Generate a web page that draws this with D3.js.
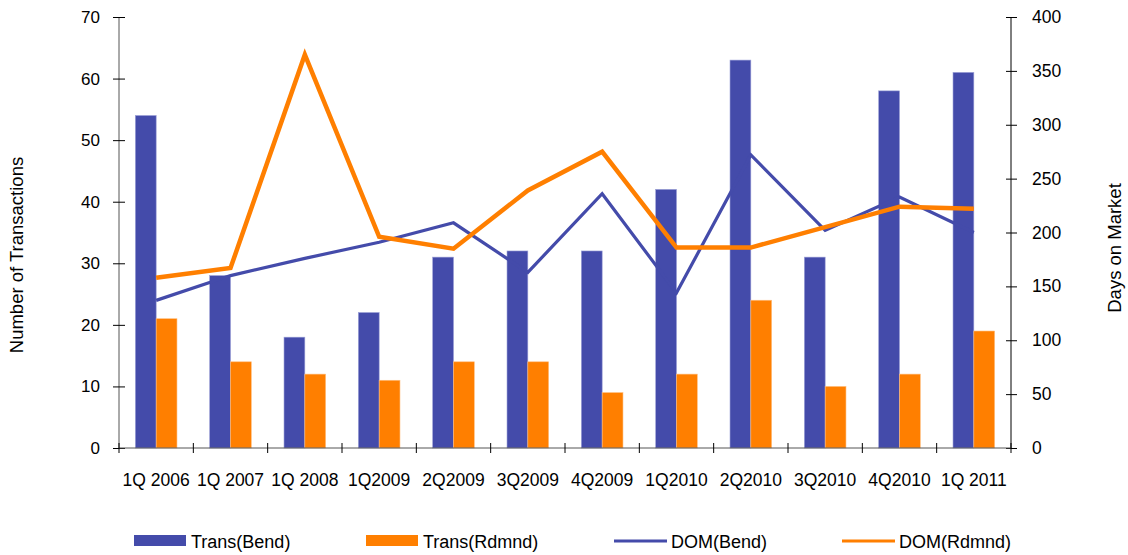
<!DOCTYPE html>
<html>
<head>
<meta charset="utf-8">
<script src="https://cdn.jsdelivr.net/npm/d3@7/dist/d3.min.js"></script>
<style>
  html, body { margin: 0; padding: 0; background: #fff; }
  svg text { font-family: "Liberation Sans", Arial, sans-serif; fill: #000; }
</style>
</head>
<body>
<div id="chart"></div>
<script>
// Quarterly transactions and days on market, Bend vs Redmond
const categories = ["1Q 2006", "1Q 2007", "1Q 2008", "1Q2009", "2Q2009", "3Q2009",
                    "4Q2009", "1Q2010", "2Q2010", "3Q2010", "4Q2010", "1Q 2011"];
const transBend   = [54, 28, 18, 22, 31, 32, 32, 42, 63, 31, 58, 61];
const transRdmnd  = [21, 14, 12, 11, 14, 14, 9, 12, 24, 10, 12, 19];
const domBend     = [137, 160, 176, 191, 209, 163, 236, 144, 272, 202, 233, 200];
const domRdmnd    = [158, 167, 365, 196, 185, 239, 275, 186, 186, 205, 224, 222];
const leftTicks   = [0, 10, 20, 30, 40, 50, 60, 70];
const rightTicks  = [0, 50, 100, 150, 200, 250, 300, 350, 400];

const W = 1128, H = 555;
const plot = { left: 119, right: 1011, top: 17, bottom: 448 };
const blue = "#444BAA", orange = "#FF7F00";
const font = "Liberation Sans, Arial, sans-serif";

const svg = d3.select("#chart").append("svg")
  .attr("width", W).attr("height", H);

const x = d3.scaleBand().domain(categories)
  .range([plot.left, plot.right]).paddingInner(0.44).paddingOuter(0.22);
const xGroup = d3.scaleBand().domain(categories).range([plot.left, plot.right]);
const yL = d3.scaleLinear().domain([0, 70]).range([plot.bottom, plot.top]);
const yR = d3.scaleLinear().domain([0, 400]).range([plot.bottom, plot.top]);

// bars
const barW = x.bandwidth() / 2;
const g = svg.append("g");
g.selectAll("rect.bend").data(categories).join("rect")
  .attr("x", d => x(d)).attr("width", barW)
  .attr("y", (d, i) => yL(transBend[i]))
  .attr("height", (d, i) => yL(0) - yL(transBend[i]))
  .attr("fill", blue).attr("stroke", "#9a9fd6").attr("stroke-width", 0.6);
g.selectAll("rect.rd").data(categories).join("rect")
  .attr("x", d => x(d) + barW).attr("width", barW)
  .attr("y", (d, i) => yL(transRdmnd[i]))
  .attr("height", (d, i) => yL(0) - yL(transRdmnd[i]))
  .attr("fill", orange).attr("stroke", "#ffbf80").attr("stroke-width", 0.6);

// lines on the right axis
const cx = d => xGroup(d) + xGroup.bandwidth() / 2;
const line = vals => d3.line().x((d, i) => cx(categories[i])).y(d => yR(d))(vals);
svg.append("path").attr("d", line(domBend))
  .attr("fill", "none").attr("stroke", blue).attr("stroke-width", 3.2)
  .attr("stroke-linejoin", "miter");
svg.append("path").attr("d", line(domRdmnd))
  .attr("fill", "none").attr("stroke", orange).attr("stroke-width", 4.5)
  .attr("stroke-linejoin", "miter");

// axes
const axisColor = "#555";
const leftAxis = d3.axisLeft(yL).tickValues(leftTicks).tickSize(6).tickPadding(13);
const gl = svg.append("g").attr("transform", `translate(${plot.left},0)`).call(leftAxis);
gl.selectAll(".tick line").attr("x2", -6).attr("x1", 6).attr("stroke", "#000");
gl.select(".domain").attr("d", `M0,${plot.top}V${plot.bottom}`).attr("stroke", axisColor);
gl.selectAll("text").attr("font-size", 17);

const rightAxis = d3.axisRight(yR).tickValues(rightTicks).tickSize(6).tickPadding(15);
const gr = svg.append("g").attr("transform", `translate(${plot.right},0)`).call(rightAxis);
gr.selectAll(".tick line").attr("x1", -5).attr("x2", 6).attr("stroke", "#000");
gr.select(".domain").attr("d", `M0,${plot.top}V${plot.bottom}`).attr("stroke", "#000");
gr.selectAll("text").attr("font-size", 17.5);

const bottomAxis = d3.axisBottom(xGroup).tickSize(0).tickPadding(26);
const gb = svg.append("g").attr("transform", `translate(0,${plot.bottom})`).call(bottomAxis);
gb.select(".domain").attr("d", `M${plot.left},0H${plot.right}`).attr("stroke", axisColor);
gb.selectAll(".tick line").remove();
gb.selectAll("text").attr("font-size", 17.5);
// category separator ticks
gb.selectAll("line.sep").data(d3.range(categories.length + 1)).join("line")
  .attr("x1", i => plot.left + i * xGroup.step()).attr("x2", i => plot.left + i * xGroup.step())
  .attr("y1", -5).attr("y2", 5).attr("stroke", "#000");

[gl, gr, gb].forEach(a => a.selectAll("text")
  .attr("font-family", font).attr("fill", "#000"));

// axis titles
svg.append("text").attr("transform", "translate(23,255) rotate(-90)")
  .attr("text-anchor", "middle").attr("font-size", 18.5).text("Number of Transactions");
svg.append("text").attr("transform", "translate(1121,248) rotate(-90)")
  .attr("text-anchor", "middle").attr("font-size", 18.5).text("Days on Market");

// legend
const legend = [
  { name: "Trans(Bend)", color: blue, type: "bar", x: 134 },
  { name: "Trans(Rdmnd)", color: orange, type: "bar", x: 366 },
  { name: "DOM(Bend)", color: blue, type: "line", x: 614 },
  { name: "DOM(Rdmnd)", color: orange, type: "line", x: 842 }
];
const lg = svg.append("g");
legend.forEach(l => {
  if (l.type === "bar") {
    lg.append("rect").attr("x", l.x).attr("y", 535).attr("width", 52).attr("height", 11).attr("fill", l.color);
  } else {
    lg.append("line").attr("x1", l.x).attr("x2", l.x + 53).attr("y1", 541).attr("y2", 541)
      .attr("stroke", l.color).attr("stroke-width", 3);
  }
  lg.append("text").attr("x", l.x + 57).attr("y", 547.5).attr("font-size", 18).text(l.name);
});
</script>
</body>
</html>
